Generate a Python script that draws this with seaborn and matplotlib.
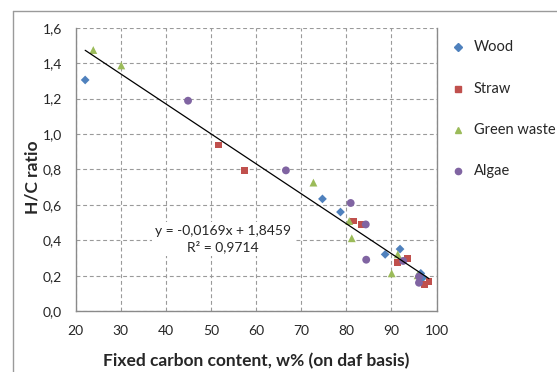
import matplotlib
matplotlib.use("Agg")
import matplotlib.pyplot as plt
import seaborn as sns
import pandas as pd
import numpy as np
from matplotlib.ticker import FuncFormatter, MultipleLocator
from matplotlib.lines import Line2D

# Données
wood_x = [22.1, 74.7, 78.7, 88.6, 91.9, 96.5, 97.0]
wood_y = [1.305, 0.634, 0.560, 0.321, 0.351, 0.214, 0.190]
straw_x = [51.6, 57.5, 81.5, 83.3, 91.4, 93.6, 97.4, 98.3]
straw_y = [0.938, 0.793, 0.509, 0.490, 0.276, 0.299, 0.152, 0.167]
green_x = [23.9, 30.1, 72.7, 80.65, 81.2, 90.05, 91.4, 95.8]
green_y = [1.474, 1.387, 0.726, 0.509, 0.412, 0.214, 0.321, 0.203]
algae_x = [44.9, 66.6, 80.96, 84.3, 84.4, 92.6, 96.1, 96.1]
algae_y = [1.188, 0.795, 0.611, 0.490, 0.291, 0.284, 0.161, 0.195]

series = ["Wood", "Straw", "Green waste", "Algae"]
couleurs = ["#4F81BD", "#C0504D", "#9BBB59", "#8064A2"]
marqueurs = ["D", "s", "^", "o"]
tailles = [20, 24, 32, 32]

# Droite de régression
pente, origine = -0.0169, 1.8459
trend_x = [22.1, 98.3]

df = pd.concat([
    pd.DataFrame({"x": wood_x, "y": wood_y, "type": "Wood"}),
    pd.DataFrame({"x": straw_x, "y": straw_y, "type": "Straw"}),
    pd.DataFrame({"x": green_x, "y": green_y, "type": "Green waste"}),
    pd.DataFrame({"x": algae_x, "y": algae_y, "type": "Algae"}),
])

sns.set_style("white")
plt.rcParams["font.family"] = ["Lato", "DejaVu Sans"]

fig = plt.figure(figsize=(5.57, 3.72), dpi=100)
ax = fig.add_axes([0.1359, 0.1632, 0.6479, 0.7624])

# Cadre extérieur (zone du graphique), coupé à droite et en bas
gauche, haut = 12.5 / 557, 1 - 10.5 / 372
fig.add_artist(Line2D([gauche, gauche], [0, haut], color="#9a9a9a",
                      linewidth=1.0, transform=fig.transFigure))
fig.add_artist(Line2D([gauche, 1], [haut, haut], color="#9a9a9a",
                      linewidth=1.0, transform=fig.transFigure))

ax.grid(True, color="#9a9a9a", linestyle=(0, (3.5, 2.5)), linewidth=0.8)
ax.set_axisbelow(True)

for nom, c, m, s in zip(series, couleurs, marqueurs, tailles):
    sub = df[df["type"] == nom]
    sns.scatterplot(data=sub, x="x", y="y", ax=ax, color=c, marker=m,
                    s=s, edgecolor="none", linewidth=0, legend=False)

tx = np.array(trend_x)
ax.plot(tx, pente * tx + origine, color="black", linewidth=0.9)

ax.set_xlim(20, 100)
ax.set_ylim(0, 1.6)
ax.xaxis.set_major_locator(MultipleLocator(10))
ax.yaxis.set_major_locator(MultipleLocator(0.2))
ax.yaxis.set_major_formatter(FuncFormatter(lambda v, p: f"{v:.1f}".replace(".", ",")))
ax.tick_params(axis="both", direction="out", length=4, width=0.8,
               color="#8a8a8a", labelsize=10, pad=6)
ax.set_xlabel("")
ax.set_ylabel("")
for s in ["left", "bottom", "right"]:
    ax.spines[s].set_color("#8a8a8a")
    ax.spines[s].set_linewidth(1.0)
ax.spines["top"].set_visible(False)

fig.text(223 / 557, 1 - 239 / 372, "y = -0,0169x + 1,8459\nR² = 0,9714",
         ha="center", va="center", fontsize=10, linespacing=1.35,
         bbox=dict(facecolor="white", edgecolor="none", pad=2))

fig.text(32 / 557, 1 - 177 / 372, "H/C ratio", rotation=90, ha="center",
         va="center", fontsize=12.5, fontweight="bold")
fig.text(256 / 557, 1 - 361 / 372, "Fixed carbon content, w% (on daf basis)",
         ha="center", va="center", fontsize=12.5, fontweight="bold")

# Légende
legend_y = [46.7, 88.7, 129.5, 171]
for nom, c, m, yy in zip(series, couleurs, marqueurs, legend_y):
    fig.add_artist(Line2D([458 / 557], [1 - yy / 372], marker=m, color=c,
                          markersize=4.5, linestyle="none",
                          transform=fig.transFigure))
    fig.text(474 / 557, 1 - yy / 372, nom, ha="left", va="center", fontsize=10.5)

plt.savefig("out.png", dpi=100)
